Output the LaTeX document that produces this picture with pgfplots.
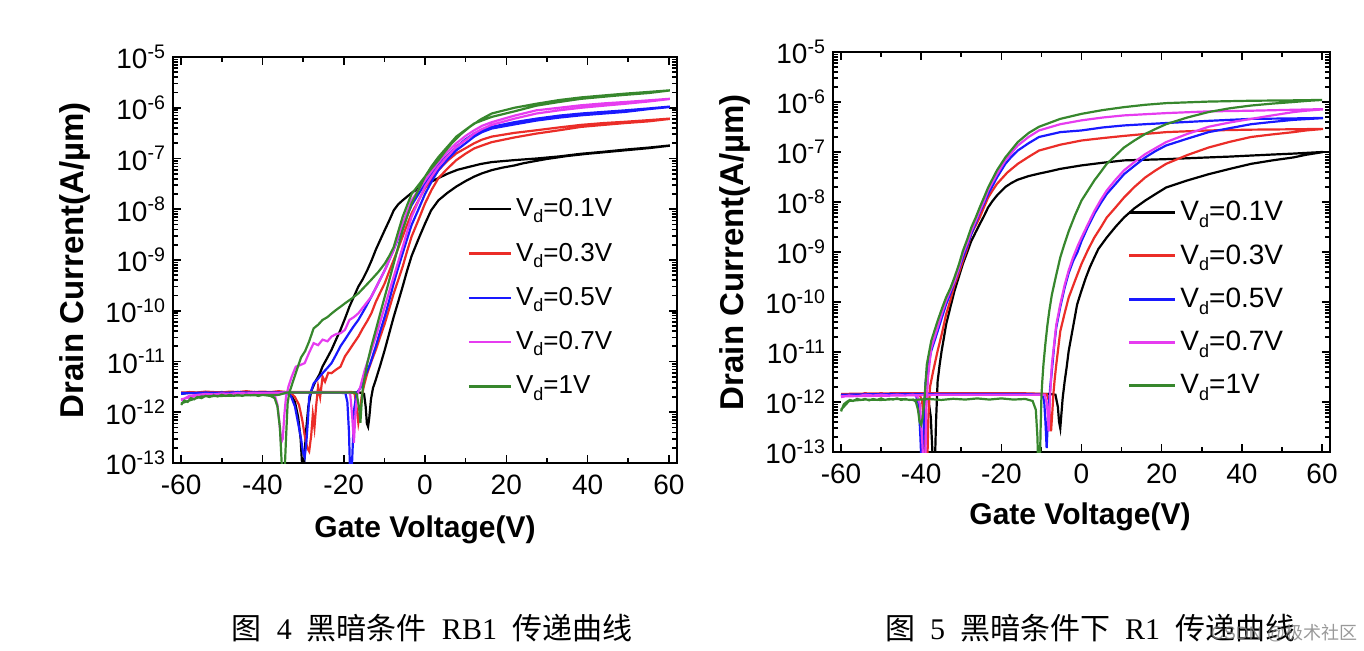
\documentclass[border=0pt]{standalone}
\usepackage{fontspec}
\usepackage{pgfplots}
\pgfplotsset{compat=1.18}
\setmainfont{Liberation Sans}
\newfontfamily\cjk{Noto Sans CJK SC}
\newfontfamily\tms{Liberation Serif}
\definecolor{cred}{RGB}{235,45,40}
\definecolor{cblue}{RGB}{25,25,255}
\definecolor{cmag}{RGB}{230,60,240}
\definecolor{cgreen}{RGB}{55,135,45}
\newcommand{\Vd}{V\raisebox{-0.45ex}{\fontsize{9}{10}\selectfont d}}
\pgfplotsset{
  myax/.style={
    scale only axis,
    xmin=-62, xmax=62, ymin=1e-13, ymax=1e-5,
    xtick={-60,-40,-20,0,20,40,60},
    xticklabels={-60,-40,-20,0,20,40,60},
    minor x tick num=1,
    ytick={1e-13,1e-12,1e-11,1e-10,1e-9,1e-8,1e-7,1e-6,1e-5},
    yticklabels={10\textsuperscript{-13},10\textsuperscript{-12},10\textsuperscript{-11},10\textsuperscript{-10},10\textsuperscript{-9},10\textsuperscript{-8},10\textsuperscript{-7},10\textsuperscript{-6},10\textsuperscript{-5}},
    tick align=inside, major tick length=4pt, minor tick length=2.5pt,
    axis line style={line width=1pt},
    every tick/.style={black, line width=0.8pt},
    tick label style={font=\fontsize{14}{16}\selectfont},
    xticklabel style={yshift=-2.5pt},
    xlabel={Gate Voltage(V)}, ylabel={Drain Current(A/\textmu m)},
    xlabel style={font=\bfseries\fontsize{15}{18}\selectfont, at={(axis description cs:0.5,-0.165)}, anchor=center},
    ylabel style={font=\bfseries\fontsize{16.5}{19}\selectfont, at={(axis description cs:-0.194,0.5)}, anchor=center},
    legend cell align=left,
    every axis plot/.append style={line width=1.1pt},
  }
}
\begin{document}
\begin{tikzpicture}
\path[use as bounding box] (0,0) rectangle (682pt,325pt);
% ---------------- Left panel (RB1) ----------------
\begin{axis}[ymode=log, myax, at={(86.5pt,93.5pt)}, anchor=south west, width=252pt, height=203pt,
  legend image code/.code={\draw[#1,line width=1.2pt] (0pt,0pt) -- (21pt,0pt);},
  legend style={at={(axis description cs:0.572,0.672)}, anchor=north west, draw=none, fill=none,
    font=\fontsize{13}{15}\selectfont, row sep=7.6pt}]
\addplot[black] coordinates {(-60,2.3e-12)(-58,2.45e-12)(-56,2.4e-12)(-54,2.5e-12)(-52,2.4e-12)(-50,2.5e-12)(-48,2.45e-12)(-46,2.5e-12)(-44,2.4e-12)(-42,2.5e-12)(-40,2.45e-12)(-38,2.4e-12)(-36,2.45e-12)(-34,2.4e-12)(-33,2.2e-12)(-32,1.6e-12)(-31.2,8e-13)(-30.6,3e-13)(-30.2,8e-14)(-29.8,8e-14)(-29.3,4e-13)(-28.7,1.3e-12)(-28,2.6e-12)(-27,4e-12)(-26,5.5e-12)(-25.2,8e-12)(-24,1.2e-11)(-23,1.7e-11)(-21.8,2.8e-11)(-20.8,4.2e-11)(-19.7,7e-11)(-18.6,1.2e-10)(-17.5,1.9e-10)(-16.4,3e-10)(-15.3,4.2e-10)(-14.2,6.3e-10)(-13.1,1e-9)(-12.1,1.6e-9)(-11,2.5e-9)(-9.9,3.9e-9)(-8.8,6e-9)(-7.7,9.5e-9)(-6.6,1.25e-8)(-5.5,1.5e-8)(-3,2.2e-8)(0,3e-8)(2.7,3.9e-8)(5.5,5e-8)(8,6e-8)(11,6.9e-8)(13.7,7.8e-8)(16.4,8.5e-8)(22,9.3e-8)(27.4,1.0e-7)(33,1.1e-7)(38.4,1.24e-7)(44,1.36e-7)(49.3,1.5e-7)(55,1.64e-7)(60,1.8e-7)
(60,1.78e-7)(55,1.6e-7)(50,1.47e-7)(45,1.35e-7)(40,1.24e-7)(35,1.12e-7)(30,9.8e-8)(27.4,9e-8)(24,8e-8)(22,7.3e-8)(19,6.6e-8)(16.4,5.9e-8)(14,5.1e-8)(12.1,4.4e-8)(10,3.6e-8)(7.7,2.8e-8)(5.5,2.1e-8)(3.3,1.5e-8)(1.5,9.5e-9)(0,5.2e-9)(-1.6,2.6e-9)(-3.3,1.2e-9)(-4.4,6.2e-10)(-5.5,3e-10)(-6.6,1.5e-10)(-7.7,7.6e-11)(-8.8,3.6e-11)(-9.9,1.7e-11)(-11,8.5e-12)(-12.1,4.4e-12)(-12.8,3e-12)(-13.3,1.8e-12)(-13.7,8e-13)(-14,5.2e-13)(-14.3,6e-13)(-14.6,1.3e-12)(-15,2.3e-12)(-16,2.45e-12)(-25,2.45e-12)(-35,2.45e-12)(-45,2.45e-12)(-60,2.4e-12)};
\addlegendentry{\Vd=0.1V}
\addplot[cred] coordinates {(-60,2.4e-12)(-58,2.5e-12)(-56,2.45e-12)(-54,2.55e-12)(-52,2.5e-12)(-50,2.45e-12)(-48,2.55e-12)(-46,2.5e-12)(-44,2.6e-12)(-42,2.5e-12)(-40,2.55e-12)(-38,2.5e-12)(-36,2.6e-12)(-34,2.5e-12)(-33,2.4e-12)(-32,2e-12)(-31,1.4e-12)(-30.2,7e-13)(-29.6,3.5e-13)(-29,2e-13)(-28.5,1.7e-13)(-28,3.5e-13)(-27.6,9e-13)(-27.2,5e-13)(-26.8,1.3e-12)(-26.3,3.2e-12)(-25.8,2e-12)(-25.2,5e-12)(-24.6,4e-12)(-23.8,6e-12)(-23,5.9e-12)(-22,6.8e-12)(-20.8,7.9e-12)(-19.7,1.26e-11)(-18.6,1.7e-11)(-17.5,2.3e-11)(-16.4,3.1e-11)(-15.3,4.5e-11)(-14.2,6.3e-11)(-13.2,8.9e-11)(-12.1,1.5e-10)(-11,2.3e-10)(-9.9,3.5e-10)(-8.8,6e-10)(-7.7,1e-9)(-6.6,1.7e-9)(-5.5,2.9e-9)(-4.4,5e-9)(-3.3,8.3e-9)(-1.6,1.5e-8)(0,2.6e-8)(1.6,3.9e-8)(3.3,5.9e-8)(5.5,9e-8)(7.7,1.26e-7)(10,1.6e-7)(12.1,2e-7)(14,2.35e-7)(16.4,2.7e-7)(22,3.2e-7)(27.4,3.6e-7)(33,4.1e-7)(38.4,4.6e-7)(44,5e-7)(49.3,5.3e-7)(55,5.7e-7)(60,6.1e-7)
(60,6e-7)(55,5.4e-7)(49.3,5e-7)(44,4.6e-7)(38.4,4.2e-7)(33,3.6e-7)(27.4,3.1e-7)(22,2.6e-7)(16.4,2.1e-7)(14,1.8e-7)(12.1,1.58e-7)(10,1.25e-7)(7.7,9.3e-8)(5.5,6.3e-8)(3.3,4.1e-8)(1.6,2.4e-8)(0,1.3e-8)(-1.6,6.2e-9)(-3.3,2.9e-9)(-4.4,1.5e-9)(-5.5,7.4e-10)(-6.6,4e-10)(-7.7,2.2e-10)(-8.8,1.1e-10)(-9.9,5.6e-11)(-11,3.1e-11)(-12.1,1.7e-11)(-13.2,1e-11)(-14.2,5.9e-12)(-15.0,3.4e-12)(-15.6,2e-12)(-16,1e-12)(-16.4,6.2e-13)(-16.8,1.2e-12)(-17.3,2.3e-12)(-18,2.5e-12)(-25,2.5e-12)(-35,2.5e-12)(-45,2.5e-12)(-60,2.45e-12)};
\addlegendentry{\Vd=0.3V}
\addplot[cblue] coordinates {(-60,2.3e-12)(-58,2.4e-12)(-56,2.35e-12)(-54,2.45e-12)(-52,2.4e-12)(-50,2.45e-12)(-48,2.4e-12)(-46,2.5e-12)(-44,2.4e-12)(-42,2.45e-12)(-40,2.4e-12)(-38,2.45e-12)(-36,2.4e-12)(-34,2.35e-12)(-33,2.1e-12)(-32,1.3e-12)(-31.2,6e-13)(-30.5,3e-13)(-30,1.6e-13)(-29.6,1.3e-13)(-29.2,2.5e-13)(-28.8,7e-13)(-28.5,2e-12)(-27.4,3.7e-12)(-26.3,4.6e-12)(-25.2,5.9e-12)(-24,7.5e-12)(-23,9.3e-12)(-21.8,1.4e-11)(-20.8,2e-11)(-19.7,2.7e-11)(-18.6,3.7e-11)(-17.5,5e-11)(-16.4,6.6e-11)(-14.8,1.1e-10)(-13.2,1.9e-10)(-11.5,3.5e-10)(-9.9,6.3e-10)(-8.8,1e-9)(-7.7,1.6e-9)(-6.6,2.7e-9)(-5.5,4.6e-9)(-4.4,7.5e-9)(-3.3,1.2e-8)(-1.6,2e-8)(0,3.2e-8)(1.6,4.9e-8)(3.3,7.4e-8)(5.5,1.15e-7)(7.7,1.7e-7)(10,2.4e-7)(12.1,3.1e-7)(14,3.7e-7)(16.4,4.2e-7)(22,5.2e-7)(27.4,6.1e-7)(33,7e-7)(38.4,7.7e-7)(44,8.3e-7)(49.3,8.9e-7)(55,9.7e-7)(60,1.05e-6)
(60,1.03e-6)(55,9.4e-7)(49.3,8.3e-7)(44,7.7e-7)(38.4,7.1e-7)(33,6.4e-7)(27.4,5.6e-7)(22,4.7e-7)(16.4,3.9e-7)(14,3.3e-7)(12.1,2.7e-7)(10,2e-7)(7.7,1.45e-7)(5.5,9.5e-8)(3.3,5.9e-8)(1.6,3.5e-8)(0,2e-8)(-1.6,1e-8)(-3.3,4.9e-9)(-4.4,2.6e-9)(-5.5,1.35e-9)(-6.6,7e-10)(-7.7,3.5e-10)(-8.8,1.6e-10)(-9.9,7.7e-11)(-11,4e-11)(-12.1,2e-11)(-13.5,9e-12)(-14.8,5e-12)(-15.9,3e-12)(-16.8,2.4e-12)(-17.4,1.2e-12)(-17.8,2e-13)(-18.1,5e-14)(-18.4,5e-14)(-18.7,4e-13)(-19.1,1.6e-12)(-19.6,2.4e-12)(-25,2.45e-12)(-35,2.45e-12)(-45,2.45e-12)(-60,2.4e-12)};
\addlegendentry{\Vd=0.5V}
\addplot[cmag] coordinates {(-60,1.7e-12)(-59,1.9e-12)(-58,2.1e-12)(-56,2.2e-12)(-54,2.3e-12)(-52,2.25e-12)(-50,2.35e-12)(-48,2.3e-12)(-46,2.4e-12)(-44,2.35e-12)(-42,2.4e-12)(-40,2.35e-12)(-38,2.4e-12)(-37,2.2e-12)(-36.3,1.4e-12)(-35.8,6e-13)(-35.4,2.5e-13)(-35,3e-13)(-34.6,9e-13)(-34.2,2e-12)(-33.6,3.2e-12)(-32.8,5e-12)(-31.8,7.9e-12)(-30.7,8.5e-12)(-29.6,9.3e-12)(-28.5,1.5e-11)(-27.4,2.3e-11)(-26.3,2.1e-11)(-25.2,2.7e-11)(-24,2.5e-11)(-23,3.1e-11)(-21.8,3.5e-11)(-20.8,3.6e-11)(-19.7,4.2e-11)(-18.6,6.6e-11)(-17.5,7.5e-11)(-16.4,8.9e-11)(-14.8,1.3e-10)(-13.2,1.9e-10)(-11.5,3.5e-10)(-9.9,6.3e-10)(-8.8,1e-9)(-7.7,1.6e-9)(-6.6,2.9e-9)(-5.5,5.2e-9)(-4.4,9e-9)(-3.3,1.5e-8)(-1.6,2.4e-8)(0,3.7e-8)(1.6,5.6e-8)(3.3,8.5e-8)(5.5,1.35e-7)(7.7,2e-7)(10,2.8e-7)(12.1,3.6e-7)(14,4.4e-7)(16.4,5.2e-7)(22,7e-7)(27.4,8.9e-7)(33,1e-6)(38.4,1.12e-6)(44,1.22e-6)(49.3,1.3e-6)(55,1.4e-6)(60,1.5e-6)
(60,1.48e-6)(55,1.33e-6)(49.3,1.2e-6)(44,1.1e-6)(38.4,1e-6)(33,8.9e-7)(27.4,7.7e-7)(22,6.1e-7)(16.4,4.6e-7)(14,3.8e-7)(12.1,3.1e-7)(10,2.3e-7)(7.7,1.7e-7)(5.5,1.1e-7)(3.3,6.9e-8)(1.6,4.4e-8)(0,2.8e-8)(-1.6,1.45e-8)(-3.3,7.1e-9)(-4.4,3.6e-9)(-5.5,1.8e-9)(-6.6,9.2e-10)(-7.7,4.7e-10)(-8.8,2.4e-10)(-9.9,1.2e-10)(-11,6.1e-11)(-12.1,3.1e-11)(-13.5,1.4e-11)(-14.8,6.9e-12)(-16,3e-12)(-16.7,2.2e-12)(-17.1,1e-12)(-17.5,2.5e-13)(-17.9,8e-13)(-18.4,2.3e-12)(-19,2.45e-12)(-25,2.45e-12)(-35,2.45e-12)(-36,2.4e-12)(-45,2.35e-12)(-55,2.2e-12)(-60,1.8e-12)};
\addlegendentry{\Vd=0.7V}
\addplot[cgreen] coordinates {(-60,1.4e-12)(-59.2,1.7e-12)(-58.4,1.6e-12)(-57.6,1.9e-12)(-56.8,1.8e-12)(-56,2e-12)(-55,1.9e-12)(-54,2.1e-12)(-53,2e-12)(-52,2.15e-12)(-51,2.05e-12)(-50,2.2e-12)(-49,2.1e-12)(-48,2.2e-12)(-47,2.1e-12)(-46,2.2e-12)(-45,2.1e-12)(-44,2.2e-12)(-43,2.15e-12)(-42,2.2e-12)(-41,2.1e-12)(-40,2.2e-12)(-39,2.15e-12)(-38,2.1e-12)(-37,1.9e-12)(-36.3,1.3e-12)(-35.7,5e-13)(-35.2,8e-14)(-34.6,5e-14)(-34.2,3e-13)(-33.8,1.5e-12)(-33.4,2.4e-12)(-32.5,4e-12)(-31.5,7e-12)(-30.5,1.2e-11)(-29.5,1.6e-11)(-28.5,2.5e-11)(-27.4,4.5e-11)(-26.3,5.3e-11)(-25.2,6.6e-11)(-24,7.5e-11)(-23,8.8e-11)(-21.8,1.05e-10)(-20.8,1.2e-10)(-19.7,1.4e-10)(-18,1.75e-10)(-16.4,2.2e-10)(-14.8,3e-10)(-13.2,4.1e-10)(-11.5,5.8e-10)(-9.9,8.5e-10)(-8.8,1.2e-9)(-7.7,1.8e-9)(-6.6,3.6e-9)(-5.5,7.1e-9)(-4.4,1.2e-8)(-3.3,2e-8)(-1.6,3e-8)(0,4.4e-8)(1.6,6.4e-8)(3.3,9.3e-8)(5,1.4e-7)(6.6,2e-7)(8.8,3e-7)(11,4.2e-7)(13.7,5.9e-7)(16.4,7.7e-7)(22,1e-6)(27.4,1.2e-6)(33,1.42e-6)(38.4,1.6e-6)(44,1.75e-6)(49.3,1.9e-6)(55,2.05e-6)(60,2.2e-6)
(60,2.18e-6)(55,1.95e-6)(49.3,1.8e-6)(44,1.65e-6)(38.4,1.5e-6)(33,1.3e-6)(27.4,1.1e-6)(22,8.5e-7)(16.4,6.6e-7)(14,5.6e-7)(12.1,4.9e-7)(10,3.7e-7)(7.7,2.7e-7)(5.5,1.7e-7)(3.3,1.07e-7)(1.6,7e-8)(0,4.4e-8)(-1.6,2.4e-8)(-3.3,1.3e-8)(-4.4,7.1e-9)(-5.5,3.9e-9)(-6.6,1.8e-9)(-7.7,8.5e-10)(-8.8,4e-10)(-9.9,1.9e-10)(-11,9e-11)(-12.1,4.2e-11)(-13.2,2e-11)(-14.2,9.3e-12)(-14.8,5e-12)(-15.3,3e-12)(-15.6,1.5e-12)(-15.9,6.2e-13)(-16.2,1.2e-12)(-16.8,2.3e-12)(-17.5,2.45e-12)(-25,2.45e-12)(-34,2.45e-12)(-36,2.2e-12)(-45,2.15e-12)(-55,2.05e-12)(-60,1.5e-12)};
\addlegendentry{\Vd=1V}
\end{axis}
% ---------------- Right panel (R1) ----------------
\begin{axis}[ymode=log, myax, at={(416.5pt,99pt)}, anchor=south west, width=248.5pt, height=200pt,
  xlabel style={at={(axis description cs:0.497,-0.1625)}},
  ylabel style={at={(axis description cs:-0.197,0.5)}},
  legend image code/.code={\draw[#1,line width=1.4pt] (0pt,0pt) -- (23pt,0pt);},
  legend style={at={(axis description cs:0.58,0.648)}, anchor=north west, draw=none, fill=none,
    font=\fontsize{14}{16}\selectfont, row sep=6.4pt}]
\addplot[black] coordinates {(-60,1.35e-12)(-58,1.4e-12)(-56,1.38e-12)(-54,1.42e-12)(-52,1.4e-12)(-50,1.45e-12)(-48,1.4e-12)(-46,1.43e-12)(-44,1.4e-12)(-42,1.42e-12)(-40,1.4e-12)(-39,1.38e-12)(-38.2,1.1e-12)(-37.6,5e-13)(-37.2,1e-13)(-36.9,5e-14)(-36.6,5e-14)(-36.3,4e-13)(-35.9,2.6e-12)(-35.4,5.5e-12)(-34.9,1.05e-11)(-34.3,2e-11)(-33.8,3.5e-11)(-32.7,8e-11)(-31.7,1.66e-10)(-30.6,3.2e-10)(-29.6,5.8e-10)(-28.5,1e-9)(-27.5,1.66e-9)(-26.4,2.5e-9)(-25.4,3.6e-9)(-24.3,5.3e-9)(-23.3,7.8e-9)(-22.2,1.05e-8)(-21.1,1.35e-8)(-19,2e-8)(-17.5,2.4e-8)(-15.9,2.8e-8)(-13.2,3.3e-8)(-10.6,3.7e-8)(-8,4.1e-8)(-5.3,4.6e-8)(0,5.4e-8)(5.3,6.1e-8)(10.6,6.8e-8)(15.9,7e-8)(21.1,7.2e-8)(26.4,7.5e-8)(31.7,7.8e-8)(37,8.1e-8)(42.3,8.5e-8)(47.6,8.9e-8)(52.9,9.3e-8)(60,1e-7)
(60,9.9e-8)(56,8.8e-8)(52.9,7.8e-8)(47.6,6.8e-8)(42.3,5.8e-8)(37,4.6e-8)(31.7,3.6e-8)(26.4,2.7e-8)(21.1,1.95e-8)(18.5,1.45e-8)(15.9,1.07e-8)(13.2,7.5e-9)(10.6,4.9e-9)(8.5,3.2e-9)(6.3,1.95e-9)(4.2,1.15e-9)(3.2,7.8e-10)(2.1,5e-10)(1.1,3.1e-10)(0,1.7e-10)(-1.1,8.9e-11)(-2.1,3.2e-11)(-3.2,1.05e-11)(-3.7,5e-12)(-4.2,2.6e-12)(-4.7,1.2e-12)(-5.0,6e-13)(-5.3,3e-13)(-5.6,4e-13)(-5.9,8e-13)(-6.5,1.4e-12)(-8,1.45e-12)(-15,1.45e-12)(-25,1.45e-12)(-35,1.45e-12)(-45,1.45e-12)(-60,1.4e-12)};
\addlegendentry{\Vd=0.1V}
\addplot[cred] coordinates {(-60,1.35e-12)(-58,1.45e-12)(-56,1.4e-12)(-54,1.5e-12)(-52,1.45e-12)(-50,1.5e-12)(-48,1.45e-12)(-46,1.5e-12)(-44,1.45e-12)(-42,1.5e-12)(-40.5,1.45e-12)(-39.8,1.1e-12)(-39.3,4e-13)(-38.9,5e-14)(-38.5,5e-14)(-38.2,5e-13)(-37.8,2e-12)(-37,4.2e-12)(-35.9,1.05e-11)(-34.8,2.4e-11)(-33.8,5.6e-11)(-32.7,1.1e-10)(-31.7,2.2e-10)(-30.6,3.8e-10)(-29.6,6.6e-10)(-28.5,1.2e-9)(-27.5,2.3e-9)(-26.4,3.4e-9)(-25.4,4.9e-9)(-24.3,8e-9)(-23.3,1.23e-8)(-22.2,1.7e-8)(-21.1,2.3e-8)(-18.5,3.9e-8)(-15.9,5.8e-8)(-13.2,8e-8)(-10.6,1.07e-7)(-5.3,1.4e-7)(0,1.7e-7)(5.3,1.9e-7)(10.6,2.1e-7)(15.9,2.3e-7)(21.1,2.5e-7)(31.7,2.7e-7)(42.3,2.8e-7)(52.9,2.85e-7)(60,2.9e-7)
(60,2.88e-7)(56,2.7e-7)(52.9,2.5e-7)(47.6,2.25e-7)(42.3,2e-7)(37,1.6e-7)(31.7,1.23e-7)(26.4,8.7e-8)(21.1,5.8e-8)(18.5,4.3e-8)(15.9,3.1e-8)(13.2,2e-8)(10.6,1.23e-8)(8.5,7.8e-9)(6.3,4.9e-9)(4.8,3.1e-9)(3.2,1.95e-9)(1.6,1.1e-9)(0,5.8e-10)(-1.6,2.7e-10)(-3.2,1.23e-10)(-4.2,6e-11)(-5.3,2.6e-11)(-5.8,1.2e-11)(-6.3,5.6e-12)(-6.7,2.8e-12)(-7.0,1.5e-12)(-7.3,6e-13)(-7.6,2.6e-13)(-7.9,5e-13)(-8.2,1.1e-12)(-8.7,1.45e-12)(-15,1.5e-12)(-25,1.5e-12)(-35,1.5e-12)(-45,1.5e-12)(-60,1.45e-12)};
\addlegendentry{\Vd=0.3V}
\addplot[cblue] coordinates {(-60,1.3e-12)(-58,1.4e-12)(-56,1.35e-12)(-54,1.45e-12)(-52,1.4e-12)(-50,1.45e-12)(-48,1.4e-12)(-46,1.45e-12)(-44,1.4e-12)(-42,1.45e-12)(-41.3,1.35e-12)(-40.6,9e-13)(-40.2,2e-13)(-39.9,5e-14)(-39.6,5e-14)(-39.3,6e-13)(-38.9,2.5e-12)(-38.3,5e-12)(-37.5,1.05e-11)(-35.9,2.6e-11)(-34.8,5e-11)(-33.8,8.9e-11)(-32.7,1.5e-10)(-31.7,2.5e-10)(-30.6,4.5e-10)(-29.6,7.8e-10)(-28.5,1.35e-9)(-27.5,2.3e-9)(-26.4,3.8e-9)(-25.4,6.2e-9)(-24.3,9.5e-9)(-23.3,1.45e-8)(-22.2,2.1e-8)(-21.1,3.1e-8)(-19,5.8e-8)(-17.5,8e-8)(-15.9,1.07e-7)(-13.2,1.5e-7)(-10.6,2e-7)(-5.3,2.5e-7)(0,2.7e-7)(5.3,3.1e-7)(10.6,3.4e-7)(15.9,3.6e-7)(21.1,3.8e-7)(31.7,4.2e-7)(42.3,4.6e-7)(52.9,4.7e-7)(60,4.8e-7)
(60,4.75e-7)(56,4.55e-7)(52.9,4.4e-7)(47.6,4e-7)(42.3,3.6e-7)(37,3e-7)(31.7,2.5e-7)(26.4,1.85e-7)(21.1,1.35e-7)(18.5,1.05e-7)(15.9,7.8e-8)(13.2,5.3e-8)(10.6,3.6e-8)(8.5,2.3e-8)(6.3,1.45e-8)(4.8,9.5e-9)(3.2,5.8e-9)(1.6,3.2e-9)(0,1.66e-9)(-1,1e-9)(-2.1,6.6e-10)(-3.2,3.8e-10)(-4.2,1.95e-10)(-5.3,8e-11)(-6.3,3.1e-11)(-6.8,1.4e-11)(-7.4,4.2e-12)(-7.8,2e-12)(-8.1,1e-12)(-8.4,4e-13)(-8.7,1.2e-13)(-9.0,4e-13)(-9.3,1e-12)(-9.7,1.4e-12)(-15,1.45e-12)(-25,1.45e-12)(-35,1.45e-12)(-45,1.45e-12)(-60,1.4e-12)};
\addlegendentry{\Vd=0.5V}
\addplot[cmag] coordinates {(-60,1.25e-12)(-58,1.35e-12)(-56,1.3e-12)(-54,1.4e-12)(-52,1.35e-12)(-50,1.4e-12)(-48,1.35e-12)(-46,1.4e-12)(-44,1.35e-12)(-42,1.4e-12)(-41,1.3e-12)(-40.3,9e-13)(-39.8,2e-13)(-39.4,5e-14)(-39.0,5e-14)(-38.7,8e-13)(-38.3,3e-12)(-37.5,1.2e-11)(-35.9,3.1e-11)(-34.8,6e-11)(-33.8,1.05e-10)(-32.7,1.7e-10)(-31.7,2.6e-10)(-30.6,4.8e-10)(-29.6,9.1e-10)(-28.5,1.5e-9)(-27.5,2.6e-9)(-26.4,4.2e-9)(-25.4,6.6e-9)(-24.3,1.05e-8)(-23.3,1.7e-8)(-22.2,2.5e-8)(-21.1,3.6e-8)(-19,6.8e-8)(-17.5,9.5e-8)(-15.9,1.35e-7)(-13.2,2e-7)(-10.6,2.7e-7)(-5.3,3.6e-7)(0,4.3e-7)(5.3,4.9e-7)(10.6,5.4e-7)(15.9,5.7e-7)(21.1,6e-7)(31.7,6.5e-7)(42.3,6.7e-7)(52.9,7e-7)(60,7.2e-7)
(60,7.1e-7)(56,6.7e-7)(52.9,6.3e-7)(47.6,5.4e-7)(42.3,4.6e-7)(37,3.9e-7)(31.7,3.2e-7)(26.4,2.3e-7)(21.1,1.58e-7)(18.5,1.2e-7)(15.9,9.1e-8)(13.2,6.3e-8)(10.6,4.3e-8)(8.5,2.8e-8)(6.3,1.7e-8)(4.8,1.1e-8)(3.2,6.6e-9)(1.6,3.6e-9)(0,1.95e-9)(-1,1.3e-9)(-2.1,7.8e-10)(-3.2,4.3e-10)(-4.2,2.2e-10)(-5.3,9e-11)(-6.3,3.5e-11)(-6.8,1.5e-11)(-7.4,5.6e-12)(-7.8,1.5e-12)(-8.2,2.6e-13)(-8.6,9e-13)(-9.2,1.4e-12)(-15,1.4e-12)(-25,1.4e-12)(-35,1.4e-12)(-45,1.35e-12)(-60,1.3e-12)};
\addlegendentry{\Vd=0.7V}
\addplot[cgreen] coordinates {(-60,6.5e-13)(-59.3,9e-13)(-58.6,1e-12)(-57.8,1.1e-12)(-57,1.05e-12)(-56,1.15e-12)(-55,1.1e-12)(-54,1.15e-12)(-53,1.08e-12)(-52,1.15e-12)(-51,1.1e-12)(-50,1.18e-12)(-49,1.1e-12)(-48,1.15e-12)(-47,1.12e-12)(-46,1.18e-12)(-45,1.1e-12)(-44,1.15e-12)(-43,1.1e-12)(-42,1.12e-12)(-41.3,1e-12)(-40.8,7e-13)(-40.4,4e-13)(-40,3.5e-13)(-39.6,5e-13)(-39.2,1.1e-12)(-38.9,2.5e-12)(-38.6,5.6e-12)(-37.5,1.66e-11)(-35.9,4.2e-11)(-34.8,7.5e-11)(-33.8,1.23e-10)(-32.7,1.9e-10)(-31.7,3.1e-10)(-30.6,5.6e-10)(-29.6,1.05e-9)(-28.5,1.8e-9)(-27.5,3.1e-9)(-26.4,4.9e-9)(-25.4,7.8e-9)(-24.3,1.25e-8)(-23.3,1.95e-8)(-22.2,2.9e-8)(-21.1,4.3e-8)(-19,7.8e-8)(-17.5,1.1e-7)(-15.9,1.58e-7)(-13.2,2.4e-7)(-10.6,3.2e-7)(-5.3,4.6e-7)(0,5.8e-7)(5.3,6.9e-7)(10.6,7.9e-7)(15.9,8.8e-7)(21.1,9.5e-7)(31.7,1.02e-6)(42.3,1.06e-6)(52.9,1.08e-6)(60,1.1e-6)
(60,1.1e-6)(56,1.05e-6)(52.9,1e-6)(47.6,9.3e-7)(42.3,8.5e-7)(37,7.5e-7)(31.7,6.3e-7)(26.4,4.9e-7)(21.1,3.6e-7)(18.5,2.9e-7)(15.9,2.3e-7)(13.2,1.7e-7)(10.6,1.23e-7)(8.5,8.5e-8)(6.3,5.8e-8)(4.8,4e-8)(3.2,2.7e-8)(1.6,1.7e-8)(0,1.07e-8)(-1.6,5.5e-9)(-3.2,2.6e-9)(-4.2,1.5e-9)(-5.3,7.8e-10)(-6.3,3.5e-10)(-7.4,1.4e-10)(-8.0,7e-11)(-8.5,3.5e-11)(-9,1.5e-11)(-9.5,5.6e-12)(-9.8,2.5e-12)(-10.0,1.3e-12)(-10.2,3e-13)(-10.4,5e-14)(-10.8,5e-14)(-11.0,2e-13)(-11.4,7e-13)(-12.2,1.05e-12)(-14,1.15e-12)(-17,1.12e-12)(-20,1.18e-12)(-23,1.12e-12)(-26,1.18e-12)(-29,1.12e-12)(-32,1.16e-12)(-35,1.1e-12)(-38,1.15e-12)(-42,1.1e-12)(-46,1.15e-12)(-50,1.1e-12)(-54,1.12e-12)(-58,1.05e-12)(-60,7e-13)};
\addlegendentry{\Vd=1V}
\end{axis}
% ---------------- Captions ----------------
\node[font=\fontsize{15}{18}\selectfont] at (216pt,11pt) {{\cjk 图}\hspace{0.5em}{\tms 4}\hspace{0.5em}{\cjk 黑暗条件}\hspace{0.5em}{\tms RB1}\hspace{0.5em}{\cjk 传递曲线}};
\node[font=\fontsize{15}{18}\selectfont] at (545pt,11pt) {{\cjk 图}\hspace{0.5em}{\tms 5}\hspace{0.5em}{\cjk 黑暗条件下}\hspace{0.5em}{\tms R1}\hspace{0.5em}{\cjk 传递曲线}};
\node[font=\fontsize{9}{11}\selectfont, text=gray, text opacity=0.8] at (642pt,8.5pt) {CSDN @{\cjk 极术社区}};
\end{tikzpicture}
\end{document}
